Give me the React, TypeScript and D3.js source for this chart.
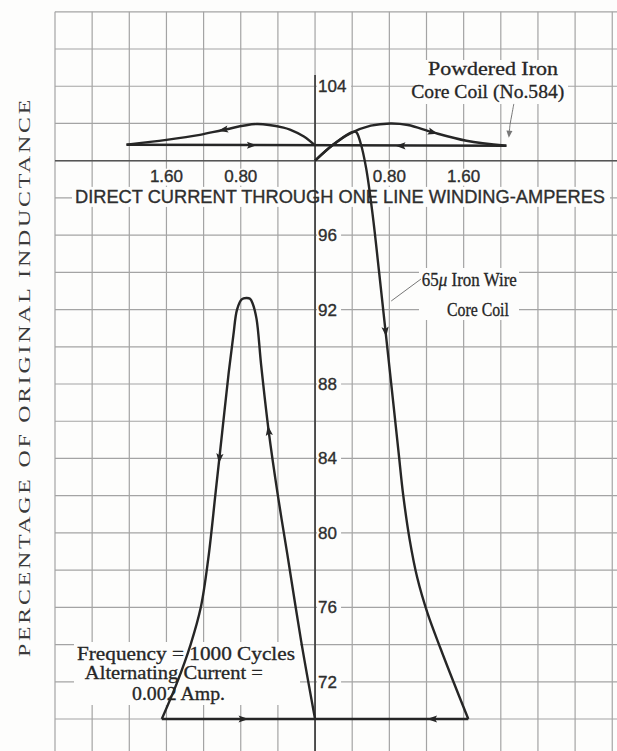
import * as d3 from "d3";

type Pt = [number, number];

// current in amperes (left of the axis drawn as negative), percentage of original inductance
const currentTicks = [-1.6, -0.8, 0.8, 1.6];
const pctTicks = [104, 96, 92, 88, 84, 80, 76, 72];

// powdered iron core coil (No.584)
const powderedRise: Pt[] = [[0, 100], [0.19, 100.84], [0.38, 101.47], [0.6, 101.88], [0.81, 102.0], [1.0, 101.92], [1.27, 101.52], [1.63, 101.07], [2.06, 100.8]];
const powderedFlat: Pt[] = [[2.06, 100.8], [-2.03, 100.86]];
const powderedLeft: Pt[] = [[0, 100.82], [-0.12, 101.3], [-0.27, 101.67], [-0.34, 101.78], [-0.63, 101.97], [-0.99, 101.65], [-1.24, 101.39], [-1.6, 101.12], [-2.03, 100.86]];

// 65 mu iron wire core coil
const ironRight: Pt[] = [[0, 100], [0.19, 100.84], [0.38, 101.5], [0.44, 101.55], [0.49, 100.95], [0.55, 99.6], [0.62, 97.1], [0.69, 94.0], [0.74, 91.7], [0.79, 89.4], [0.84, 87.1], [0.9, 84.3], [0.95, 82.0], [1.02, 79.6], [1.1, 77.6], [1.21, 75.7], [1.35, 73.8], [1.49, 72.0], [1.65, 70]];
const ironFlatRight: Pt[] = [[1.65, 70], [0, 70]];
const ironLeft: Pt[] = [[0, 70], [-0.15, 74.2], [-0.3, 78.9], [-0.4, 82.0], [-0.5, 85.5], [-0.58, 89.0], [-0.63, 91.5], [-0.67, 92.3], [-0.7, 92.58], [-0.74, 92.62], [-0.79, 92.55], [-0.84, 92.0], [-0.88, 90.6], [-0.93, 88.6], [-1.0, 85.4], [-1.07, 82.2], [-1.15, 78.6], [-1.23, 76.0], [-1.34, 74.0], [-1.49, 71.9], [-1.65, 70]];
const ironFlatLeft: Pt[] = [[-1.65, 70], [0, 70]];

// arrow heads: position and a point in the direction of travel
const arrows: [Pt, Pt][] = [
  [[1.27, 101.52], [1.4, 101.33]],
  [[0.92, 100.8], [0.8, 100.8]],
  [[-0.99, 101.65], [-1.1, 101.55]],
  [[-0.68, 100.83], [-0.5, 100.83]],
  [[0.76, 90.8], [0.8, 89.0]],
  [[1.26, 70], [1.1, 70]],
  [[-0.5, 85.5], [-0.55, 87.2]],
  [[-1.03, 84.0], [-1.07, 82.2]],
  [[-0.77, 70], [-0.6, 70]],
];

const W = 617, H = 751;
const x = d3.scaleLinear().domain([-2.8, 3.2]).range([55, 612.25]);
const y = d3.scaleLinear().domain([70, 108]).range([719, 11.8]);

const gridX = d3.range(-2.8, 3.21, 0.4);
const gridY = d3.range(68, 108.01, 2);

const line = d3.line<Pt>().x((d) => x(d[0])).y((d) => y(d[1])).curve(d3.curveCatmullRom.alpha(0.5));

const SANS = "'Liberation Sans', Arial, sans-serif";
const SERIF = "'Liberation Serif', 'Times New Roman', serif";
const INK = "#262626";
const PAPER = "#fdfdfc";

function Arrow({ at, to }: { at: Pt; to: Pt }) {
  const px = x(at[0]), py = y(at[1]);
  const ang = (Math.atan2(y(to[1]) - py, x(to[0]) - px) * 180) / Math.PI;
  return <path d="M5,0 L-5,-3.6 L-3,0 L-5,3.6 Z" fill={INK} transform={`translate(${px},${py}) rotate(${ang})`} />;
}

export default function App() {
  const x0 = x(0);
  return (
    <div style={{ position: "absolute", left: 0, top: 0 }}>
      <svg width={W} height={H} style={{ display: "block", background: PAPER }}>
        {/* grid */}
        <g stroke="#a4a4a4" strokeWidth={1.2}>
          {gridX.map((g) => (
            <line key={"v" + g} x1={x(g)} x2={x(g)} y1={y(108)} y2={H} />
          ))}
          {gridY.map((g) => (
            <line key={"h" + g} x1={x(-2.8)} x2={W} y1={y(g)} y2={y(g)} />
          ))}
        </g>

        {/* label backgrounds */}
        <g fill={PAPER}>
          {pctTicks.map((t) => (
            <rect key={t} x={x0 + 2} y={y(t) - 8} width={t > 99 ? 34 : 24} height={16} />
          ))}
          {currentTicks.map((t) => (
            <rect key={t} x={x(t) - 18} y={y(100) + 8} width={36} height={17} />
          ))}
          <rect x={72} y={y(98) - 11} width={538} height={20} />
          <rect x={424} y={60} width={144} height={44} />
          <rect x={419} y={268} width={100} height={52} />
          <rect x={74} y={642} width={226} height={63} />
        </g>

        {/* axes */}
        <line x1={x(-2.8)} x2={W} y1={y(100)} y2={y(100)} stroke="#555" strokeWidth={1.5} />
        <line x1={x0} x2={x0} y1={y(104.6)} y2={H} stroke="#444" strokeWidth={1.8} />

        {/* tick labels and x title */}
        <g fontFamily={SANS} fontSize={17} fill="#2e2e2e" stroke="#2e2e2e" strokeWidth={0.35}>
          {pctTicks.map((t) => (
            <text key={t} x={x0 + 3} y={y(t) + 6}>{t}</text>
          ))}
          {currentTicks.map((t) => (
            <text key={t} x={x(t)} y={y(100) + 21} textAnchor="middle">{Math.abs(t).toFixed(2)}</text>
          ))}
          <text x={75} y={y(98) + 5} fontSize={18.5} textLength={530} lengthAdjust="spacingAndGlyphs">
            DIRECT CURRENT THROUGH ONE LINE WINDING-AMPERES
          </text>
        </g>

        {/* y axis title */}
        <text
          transform={`translate(30,377) rotate(-90)`}
          textAnchor="middle"
          fontFamily={SERIF}
          fontSize={17}
          fill="#3a3a3a"
          textLength={560}
          lengthAdjust="spacingAndGlyphs"
          letterSpacing={2}
        >
          PERCENTAGE OF ORIGINAL INDUCTANCE
        </text>

        {/* annotations */}
        <g fontFamily={SERIF} fill={INK} stroke={INK} strokeWidth={0.3}>
          <text x={x(1.916)} y={y(104.6)} fontSize={19} textAnchor="middle" textLength={130} lengthAdjust="spacingAndGlyphs">Powdered Iron</text>
          <text x={x(1.86)} y={y(103.37)} fontSize={19} textAnchor="middle" textLength={153} lengthAdjust="spacingAndGlyphs">Core Coil (No.584)</text>
          <text x={x(1.15)} y={y(93.26)} fontSize={18} textLength={95} lengthAdjust="spacingAndGlyphs">65<tspan fontStyle="italic">μ</tspan> Iron Wire</text>
          <text x={x(1.42)} y={y(91.65)} fontSize={18} textLength={62} lengthAdjust="spacingAndGlyphs">Core Coil</text>
          <text x={x(-1.39)} y={y(73.17)} fontSize={18} textAnchor="middle" textLength={218} lengthAdjust="spacingAndGlyphs">Frequency = 1000 Cycles</text>
          <text x={x(-1.52)} y={y(72.15)} fontSize={18} textAnchor="middle" textLength={178} lengthAdjust="spacingAndGlyphs">Alternating Current =</text>
          <text x={x(-1.47)} y={y(71.0)} fontSize={18} textAnchor="middle" textLength={93} lengthAdjust="spacingAndGlyphs">0.002 Amp.</text>
        </g>

        {/* leaders */}
        <g fill="none" stroke="#777" strokeWidth={1}>
          <path d={line([[2.14, 103.05], [2.12, 102.5], [2.1, 101.95], [2.09, 101.45]])!} />
          <path d={`M${x(1.14)},${y(93.64)} L${x(0.82)},${y(92.46)}`} />
        </g>
        <path d="M4,0 L-3,-3 L-3,3 Z" fill="#777" transform={`translate(${x(2.09)},${y(101.45)}) rotate(95)`} />

        {/* curves */}
        <g fill="none" stroke={INK} strokeWidth={2.4} strokeLinejoin="round">
          {[powderedRise, powderedFlat, powderedLeft, ironRight, ironFlatRight, ironLeft, ironFlatLeft].map((s, i) => (
            <path key={i} d={line(s)!} />
          ))}
        </g>
        {arrows.map(([a, b], i) => (
          <Arrow key={i} at={a} to={b} />
        ))}
      </svg>
    </div>
  );
}
